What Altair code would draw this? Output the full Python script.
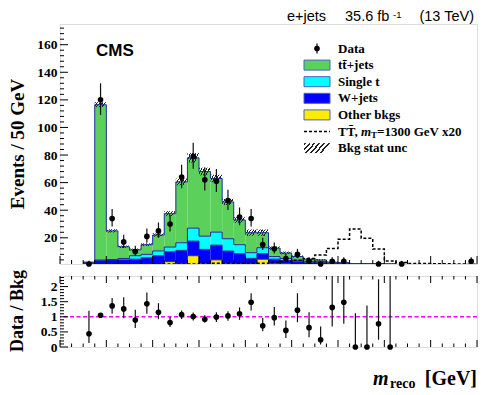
import altair as alt
import pandas as pd

# ---------------- data ----------------
bin_lo = [100 + 50 * i for i in range(34)]          # 50 GeV bins, 100 .. 1800
BIN_W = 50

ttbar    = [0.6, 112.6, 20.8, 8.5, 4.3, 7.0, 11.5, 24.2, 44.1, 51.0,
            46.8, 38.9, 26.7, 17.9, 14.5, 10.9, 6.1, 4.0, 2.7, 1.5,
            1.2, 0.6, 0.5, 0.3, 0.3, 0.3, 0.2, 0.1, 0.1, 0.1,
            0.1, 0.1, 0.1, 0.1]
single_t = [0.2, 0.5, 0.3, 1.0, 2.5, 2.5, 3.5, 3.4, 5.5, 9.4,
            9.6, 9.4, 8.9, 6.5, 4.1, 4.3, 1.9, 1.5, 1.0, 0.6,
            0.5, 0.3, 0.2, 0.1, 0.1, 0.1, 0.1, 0.05, 0.05, 0.05,
            0.05, 0.05, 0.05, 0.05]
wjets    = [1.2, 2.9, 3.4, 3.4, 3.7, 4.7, 6.0, 7.2, 9.4, 10.6,
            10.1, 10.7, 8.9, 7.3, 3.8, 4.0, 3.0, 2.3, 1.9, 1.55,
            1.45, 1.2, 1.1, 0.8, 0.8, 0.8, 0.7, 0.5, 0.5, 0.5,
            0.5, 0.5, 0.5, 0.5]
other    = [0.3, 0.5, 0.5, 0.6, 0.8, 0.8, 1.0, 2.7, 1.5, 7.0,
            1.5, 4.0, 1.5, 1.2, 1.3, 4.5, 1.5, 1.2, 0.8, 0.8,
            0.8, 0.2, 0.2, 0.1, 0.1, 0.1, 0.1, 0.05, 0.05, 0.05,
            0.05, 0.05, 0.05, 0.05]
bkg_unc  = [0.4, 1.8, 1.2, 0.9, 0.9, 1.0, 1.2, 1.8, 2.4, 3.4,
            2.8, 2.7, 2.2, 2.0, 2.3, 2.3, 1.2, 1.0, 0.8, 0.6,
            0.6, 0.4, 0.4, 0.3, 0.3, 0.3, 0.3, 0.2, 0.2, 0.2,
            0.2, 0.2, 0.2, 0.2]
signal_x20 = [0.5, 0.5, 0.5, 0.5, 0.5, 0.5, 1.0, 1.0, 1.0, 1.0,
              1.5, 1.5, 1.5, 1.5, 1.5, 1.5, 2.0, 2.8, 3.8, 5.0,
              7.5, 12.3, 19.0, 26.3, 19.6, 11.8, 3.2, 2.0, 1.4, 1.3,
              1.2, 1.1, 1.0, 0.9]
data     = [1, 120, 34, 17, 10, 21, 25, 30, 64, 79,
            62, 61, 47, 35, 34, 15, 12, 5, 8, 3,
            1, 3, 3, 0, 0, 1, 0, 1, 0, 0,
            0, 0, 0, 3]
data_elo = [0.83, 10.9, 5.8, 4.1, 3.1, 4.6, 5.0, 5.5, 8.0, 8.9,
            7.8, 7.8, 6.8, 5.9, 5.8, 3.8, 3.4, 2.2, 2.8, 1.6,
            0.83, 1.6, 1.6, 0, 0, 0.83, 0, 0.83, 0, 0,
            0, 0, 0, 1.6]
data_ehi = [2.3, 12.0, 6.9, 5.2, 4.3, 5.7, 6.1, 6.6, 9.0, 9.9,
            8.9, 8.8, 7.9, 7.0, 6.9, 5.0, 4.6, 3.4, 4.0, 2.9,
            2.3, 2.9, 2.9, 1.8, 1.8, 2.3, 1.8, 2.3, 1.8, 1.8,
            1.8, 1.8, 1.8, 2.9]

ratio    = [0.44, 1.05, 1.36, 1.26, 0.89, 1.43, 1.15, 0.81, 1.07, 1.01,
            0.92, 0.99, 1.03, 1.10, 1.48, 0.70, 0.97, 0.55, 1.22, 0.64,
            0.24, 1.31, 1.48, 0.0, 0.0, 0.77, 0.0]
ratio_lo = [0.13, 1.00, 1.10, 0.95, 0.63, 1.10, 0.92, 0.66, 0.93, 0.88,
            0.80, 0.83, 0.87, 0.90, 1.21, 0.52, 0.71, 0.30, 0.82, 0.32,
            0.08, 0.68, 0.77, 0.0, 0.0, 0.24, 0.0]
ratio_hi = [1.20, 1.10, 1.62, 1.65, 1.23, 1.80, 1.45, 0.99, 1.21, 1.14,
            1.05, 1.15, 1.18, 1.31, 1.78, 0.96, 1.32, 0.88, 1.78, 1.15,
            0.68, 3.0, 3.0, 1.12, 1.37, 2.24, 3.0]

x_tick_labels = [0, 200, 400, 600, 800, 1000, 1200, 1400, 1600, 1800]
y_tick_labels = [20, 40, 60, 80, 100, 120, 140, 160]
r_tick_labels = [0, 0.5, 1, 1.5, 2]

comp_names = ["Other bkgs", "W+jets", "Single t", "tt+jets"]
comp_vals = [other, wjets, single_t, ttbar]
comp_cols = ["#ffec00", "#0000ff", "#00ffff", "#5bd05b"]
OUTLINE = "#1f2d99"

# ---------------- styling ----------------
SERIF = "Liberation Serif"
SANS = "Liberation Sans"
W, H_TOP, H_BOT = 417, 240, 71
X_MAX = 1800

xs = alt.Scale(domain=[0, X_MAX], nice=False, zero=False)
ys = alt.Scale(domain=[1, 175], nice=False, zero=False)
rs = alt.Scale(domain=[0, 2.35], nice=False, zero=False)

y_axis = alt.Axis(values=y_tick_labels, ticks=False, domain=False, grid=False,
                  labelFont=SERIF, labelFontWeight="bold", labelFontSize=13.5,
                  labelColor="black", labelPadding=3, title=None)
r_axis = alt.Axis(values=r_tick_labels, format="~g", ticks=False, domain=False, grid=False,
                  labelFont=SERIF, labelFontWeight="bold", labelFontSize=13.5,
                  labelColor="black", labelPadding=3, title=None)
x_axis_bot = alt.Axis(values=x_tick_labels, ticks=False, domain=False, grid=False,
                      labelFont=SERIF, labelFontWeight="bold", labelFontSize=13.5,
                      labelColor="black", labelPadding=5, labelFlush=False,
                      labelOverlap=False, title=None)

one = pd.DataFrame({"a": [0]})


def txt(s, x, y, size, font=SERIF, weight="bold", style="normal", align="left",
        baseline="middle", angle=0):
    return alt.Chart(one).mark_text(
        text=s, font=font, fontSize=size, fontWeight=weight, fontStyle=style,
        align=align, baseline=baseline, angle=angle, color="black"
    ).encode(x=alt.value(x), y=alt.value(y))


def hatch_fill(n=5):
    stops = []
    for i in range(n):
        a, b, c = i / n, (i + 0.4) / n, (i + 1) / n
        stops += [alt.GradientStop(offset=a, color="#222222"),
                  alt.GradientStop(offset=b, color="#222222"),
                  alt.GradientStop(offset=b, color="rgba(255,255,255,0)"),
                  alt.GradientStop(offset=c, color="rgba(255,255,255,0)")]
    return alt.LinearGradient(gradient="linear", stops=stops, x1=0, y1=0, x2=1, y2=0.35)


# ---------------- tables ----------------
rows, lev_rows = [], []
cum = [0.0] * len(bin_lo)
for name, vals in zip(comp_names, comp_vals):
    new = [c + v for c, v in zip(cum, vals)]
    for i, lo in enumerate(bin_lo):
        rows.append(dict(comp=name, lo=lo, hi=lo + BIN_W, y0=cum[i], y1=new[i]))
        lev_rows.append(dict(comp=name, x=lo, y=new[i]))
    lev_rows.append(dict(comp=name, x=X_MAX, y=new[-1]))
    cum = new
total = cum
stack_df = pd.DataFrame(rows)
lev_df = pd.DataFrame(lev_rows)

hatch_df = pd.DataFrame(dict(lo=bin_lo, hi=[b + BIN_W for b in bin_lo],
                             y0=[t - u for t, u in zip(total, bkg_unc)],
                             y1=[t + u for t, u in zip(total, bkg_unc)]))

sig_df = pd.DataFrame(dict(x=bin_lo + [X_MAX], y=signal_x20 + [signal_x20[-1]]))

dat_df = pd.DataFrame(dict(x=[b + BIN_W / 2 for b in bin_lo], y=data,
                           lo=[d - e for d, e in zip(data, data_elo)],
                           hi=[d + e for d, e in zip(data, data_ehi)]))
dat_df = dat_df[dat_df.y > 0]

rat_df = pd.DataFrame(dict(x=[b + BIN_W / 2 for b in bin_lo[:len(ratio)]], y=ratio,
                           lo=ratio_lo, hi=ratio_hi))

x_major = x_tick_labels
x_minor = [v for v in range(0, X_MAX + 1, 50) if v not in x_major]
y_major = y_tick_labels
y_minor = [v for v in range(4, 175, 4) if v % 20 != 0]
r_major = r_tick_labels
r_minor = [round(v * 0.1, 1) for v in range(0, 24) if v % 5 != 0]


def x_ticks(vals, length, scale, height, top=False):
    return alt.Chart(pd.DataFrame({"v": vals})).mark_rule(color="black", strokeWidth=1).encode(
        x=alt.X("v:Q", scale=scale, axis=None),
        y=alt.value(0 if top else height),
        y2=alt.value(length if top else height - length))


def y_ticks(vals, length, scale, axis):
    return alt.Chart(pd.DataFrame({"v": vals})).mark_rule(color="black", strokeWidth=1).encode(
        y=alt.Y("v:Q", scale=scale, axis=axis),
        x=alt.value(0), x2=alt.value(length))


# ---------------- top panel ----------------
bars = alt.Chart(stack_df).mark_rect(clip=True).encode(
    x=alt.X("lo:Q", scale=xs, axis=None), x2="hi:Q",
    y=alt.Y("y0:Q", scale=ys, axis=y_axis), y2="y1:Q",
    color=alt.Color("comp:N", scale=alt.Scale(domain=comp_names, range=comp_cols), legend=None))

hatch = alt.Chart(hatch_df).mark_rect(clip=True, fill=hatch_fill(5)).encode(
    x=alt.X("lo:Q", scale=xs, axis=None), x2="hi:Q",
    y=alt.Y("y0:Q", scale=ys, axis=y_axis), y2="y1:Q")

outlines = alt.Chart(lev_df).mark_line(interpolate="step-after", clip=True,
                                       color=OUTLINE, strokeWidth=1).encode(
    x=alt.X("x:Q", scale=xs, axis=None),
    y=alt.Y("y:Q", scale=ys, axis=y_axis), detail="comp:N")

signal = alt.Chart(sig_df).mark_line(interpolate="step-after", clip=True, color="black",
                                     strokeWidth=1.5, strokeDash=[3, 2]).encode(
    x=alt.X("x:Q", scale=xs, axis=None), y=alt.Y("y:Q", scale=ys, axis=y_axis))

d_err = alt.Chart(dat_df).mark_rule(clip=True, color="#111111", strokeWidth=1.2).encode(
    x=alt.X("x:Q", scale=xs, axis=None), y=alt.Y("lo:Q", scale=ys, axis=y_axis), y2="hi:Q")
d_pts = alt.Chart(dat_df).mark_circle(size=32, color="black", opacity=1).encode(
    x=alt.X("x:Q", scale=xs, axis=None), y=alt.Y("y:Q", scale=ys, axis=y_axis))

top_layers = [bars, hatch, outlines, signal,
              x_ticks(x_major, 8, xs, H_TOP), x_ticks(x_minor, 4, xs, H_TOP),
              y_ticks(y_major, 8, ys, y_axis), y_ticks(y_minor, 4, ys, y_axis),
              d_err, d_pts]

# texts around the top panel
HDR_Y = -14
top_layers += [
    txt("CMS", 36, 27, 17, font=SANS),
    txt("e+jets", 227, HDR_Y, 14.5, font=SANS, weight="normal", baseline="top"),
    txt("35.6 fb", 285, HDR_Y, 14.5, font=SANS, weight="normal", baseline="top"),
    txt("-1", 333, HDR_Y, 9.5, font=SANS, weight="normal", baseline="top"),
    txt("(13 TeV)", 414, HDR_Y, 14.5, font=SANS, weight="normal", align="right", baseline="top"),
    txt("Events / 50 GeV", -42, 120, 19, angle=270, align="center"),
]

# legend
leg_y = [24.5 + 16.6 * i for i in range(7)]
BX0, BX1, TX = 244, 270, 278
top_layers += [
    alt.Chart(one).mark_rule(color="black", strokeWidth=1.2).encode(
        x=alt.value((BX0 + BX1) / 2), y=alt.value(leg_y[0] - 5), y2=alt.value(leg_y[0] + 5)),
    alt.Chart(one).mark_circle(size=32, color="black", opacity=1).encode(
        x=alt.value((BX0 + BX1) / 2), y=alt.value(leg_y[0])),
    txt("Data", TX, leg_y[0], 13),
]
leg_labels = ["tt\u0304+jets", "Single t", "W+jets", "Other bkgs"]
leg_cols = [comp_cols[3], comp_cols[2], comp_cols[1], comp_cols[0]]
for k, (lab, col) in enumerate(zip(leg_labels, leg_cols)):
    yy = leg_y[k + 1]
    top_layers += [
        alt.Chart(one).mark_rect(fill=col, stroke="#4a5fc8", strokeWidth=1).encode(
            x=alt.value(BX0), x2=alt.value(BX1), y=alt.value(yy - 5), y2=alt.value(yy + 5)),
        txt(lab, TX, yy, 13),
    ]
top_layers += [
    alt.Chart(one).mark_rule(color="black", strokeWidth=1.3, strokeDash=[3, 2]).encode(
        x=alt.value(BX0), x2=alt.value(BX1), y=alt.value(leg_y[5])),
    txt("TT\u0304,", TX, leg_y[5], 13),
    txt("m", 301, leg_y[5], 13, style="italic"),
    txt("T", 311, leg_y[5] + 3, 9),
    txt("=1300 GeV x20", 317, leg_y[5], 13),
    alt.Chart(one).mark_rect(fill=hatch_fill(6)).encode(
        x=alt.value(BX0), x2=alt.value(BX1), y=alt.value(leg_y[6] - 5), y2=alt.value(leg_y[6] + 5)),
    txt("Bkg stat unc", TX, leg_y[6], 13),
]

top = alt.layer(*top_layers).properties(width=W, height=H_TOP)

# ---------------- ratio panel ----------------
unity = alt.Chart(pd.DataFrame({"v": [1]})).mark_rule(
    color="#ff00ff", strokeWidth=1.5, strokeDash=[4, 2.5]).encode(
    y=alt.Y("v:Q", scale=rs, axis=r_axis))
r_err = alt.Chart(rat_df).mark_rule(clip=True, color="#111111", strokeWidth=1.2).encode(
    x=alt.X("x:Q", scale=xs, axis=x_axis_bot), y=alt.Y("lo:Q", scale=rs, axis=r_axis), y2="hi:Q")
r_pts = alt.Chart(rat_df).mark_circle(size=32, color="black", opacity=1).encode(
    x=alt.X("x:Q", scale=xs, axis=x_axis_bot), y=alt.Y("y:Q", scale=rs, axis=r_axis))

bot_layers = [
    unity,
    x_ticks(x_major, 7, xs, H_BOT), x_ticks(x_minor, 3.5, xs, H_BOT),
    x_ticks(x_major, 7, xs, H_BOT, top=True), x_ticks(x_minor, 3.5, xs, H_BOT, top=True),
    y_ticks(r_major, 8, rs, r_axis), y_ticks(r_minor, 4, rs, r_axis),
    r_err, r_pts,
    txt("Data / Bkg", -42, 35, 18, angle=270, align="center"),
    txt("m", 313, 109, 20, style="italic", baseline="alphabetic"),
    txt("reco", 330, 112, 14, baseline="alphabetic"),
    txt("[GeV]", 417, 109, 20, align="right", baseline="alphabetic"),
]
bottom = alt.layer(*bot_layers).properties(width=W, height=H_BOT)

chart = alt.vconcat(top, bottom, spacing=12, bounds="flush").properties(
    padding={"left": 0, "top": 0, "right": 0, "bottom": 0}
).configure_view(stroke="black", strokeWidth=1, fill="white").configure(background="white")

chart.save("out.html", embed_options={"renderer": "svg", "actions": False})
